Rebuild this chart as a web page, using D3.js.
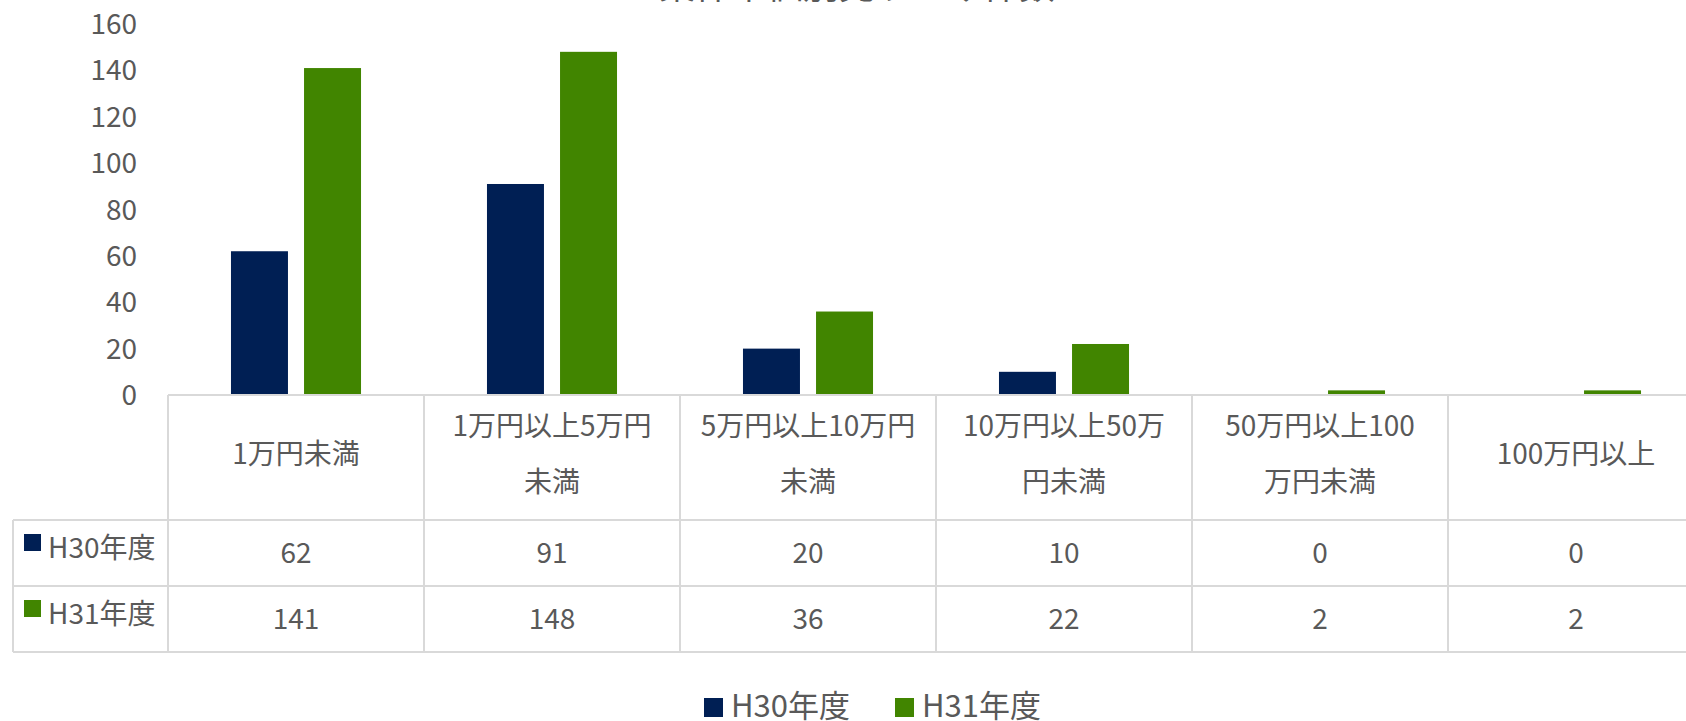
<!DOCTYPE html>
<meta charset="utf-8">
<style>
body { margin: 0; background: #fff; }
text {
  font-family: "Noto Sans CJK JP", "Noto Sans", sans-serif;
  fill: #595959;
}
.grid-line {
  stroke: #d9d9d9;
  stroke-width: 2px;
}
</style>
<svg width="1686" height="721"></svg>
<script src="https://cdn.jsdelivr.net/npm/d3@7"></script>
<script>

var title = "案件単価別売り上げ件数";
var categories = ["1万円未満", "1万円以上5万円未満", "5万円以上10万円未満", "10万円以上50万円未満", "50万円以上100万円未満", "100万円以上"];
// line breaks as they appear in the table header
var categoryLines = [
  ["1万円未満"],
  ["1万円以上5万円", "未満"],
  ["5万円以上10万円", "未満"],
  ["10万円以上50万", "円未満"],
  ["50万円以上100", "万円未満"],
  ["100万円以上"]
];
var seriesNames = ["H30年度", "H31年度"];
var h30 = [62, 91, 20, 10, 0, 0];
var h31 = [141, 148, 36, 22, 2, 2];
var yTicks = [0, 20, 40, 60, 80, 100, 120, 140, 160];
var colors = ["#001f54", "#418500"];

var svg = d3.select("svg");

var plotLeft = 168, plotRight = 1704,
    plotTop = 24, plotBottom = 395,
    tableLeft = 13,
    headerBottom = 520, rowH = 66;

var series = [h30, h31];

var x0 = d3.scaleBand()
    .domain(categories)
    .range([plotLeft, plotRight])
    .paddingInner(0.492)
    .paddingOuter(0.246);

var x1 = d3.scaleBand()
    .domain(seriesNames)
    .range([0, x0.bandwidth()])
    .paddingInner(0.22);

var y = d3.scaleLinear()
    .domain([0, 160])
    .range([plotBottom, plotTop]);

// title (mostly cropped at the top of the picture)
svg.append("text")
    .attr("x", 857)
    .attr("y", -1)
    .attr("text-anchor", "middle")
    .style("font-size", "36px")
    .text(title);

// y axis labels
svg.append("g")
  .selectAll("text")
  .data(yTicks)
  .enter().append("text")
    .attr("x", 137)
    .attr("y", function(d) { return y(d) + 10; })
    .attr("text-anchor", "end")
    .style("font-size", "28px")
    .text(function(d) { return d; });

// bars
var groups = svg.append("g")
  .selectAll("g")
  .data(categories)
  .enter().append("g")
    .attr("transform", function(d) { return "translate(" + x0(d) + ",0)"; });

groups.selectAll("rect")
  .data(function(d, i) { return series.map(function(s, j) { return {name: seriesNames[j], value: s[i], k: j}; }); })
  .enter().append("rect")
    .attr("x", function(d) { return x1(d.name); })
    .attr("y", function(d) { return y(d.value); })
    .attr("width", x1.bandwidth())
    .attr("height", function(d) { return y(0) - y(d.value); })
    .attr("fill", function(d) { return colors[d.k]; });

// data table
var step = x0.step();
var tableBottom = headerBottom + rowH * seriesNames.length;
var grid = svg.append("g");

grid.append("line").attr("class", "grid-line")
    .attr("x1", plotLeft).attr("x2", plotRight)
    .attr("y1", plotBottom).attr("y2", plotBottom);

d3.range(seriesNames.length + 1).forEach(function(r) {
  var yy = headerBottom + r * rowH;
  grid.append("line").attr("class", "grid-line")
      .attr("x1", tableLeft).attr("x2", plotRight)
      .attr("y1", yy).attr("y2", yy);
});

grid.append("line").attr("class", "grid-line")
    .attr("x1", tableLeft).attr("x2", tableLeft)
    .attr("y1", headerBottom).attr("y2", tableBottom);

d3.range(categories.length + 1).forEach(function(c) {
  var xx = plotLeft + c * step;
  grid.append("line").attr("class", "grid-line")
      .attr("x1", xx).attr("x2", xx)
      .attr("y1", plotBottom).attr("y2", tableBottom);
});

// header cells
var headerMid = (plotBottom + headerBottom) / 2 - 4;
categories.forEach(function(c, i) {
  var lines = categoryLines[i];
  var cx = plotLeft + (i + 0.5) * step;
  var lh = 56;
  var top = headerMid - (lines.length - 1) * lh / 2;
  lines.forEach(function(t, j) {
    svg.append("text")
        .attr("x", cx)
        .attr("y", top + j * lh + 10)
        .attr("text-anchor", "middle")
        .style("font-size", "28px")
        .text(t);
  });
});

// value rows
series.forEach(function(s, r) {
  var rowMid = headerBottom + r * rowH + rowH / 2;
  svg.append("rect")
      .attr("x", 24)
      .attr("y", headerBottom + r * rowH + 14)
      .attr("width", 17)
      .attr("height", 17)
      .attr("fill", colors[r]);
  svg.append("text")
      .attr("x", 48)
      .attr("y", headerBottom + r * rowH + 38)
      .style("font-size", "28px")
      .text(seriesNames[r]);
  s.forEach(function(v, i) {
    svg.append("text")
        .attr("x", plotLeft + (i + 0.5) * step)
        .attr("y", rowMid + 10)
        .attr("text-anchor", "middle")
        .style("font-size", "28px")
        .text(v);
  });
});

// legend
var legend = svg.append("g")
    .attr("transform", "translate(704,0)");

var item = legend.selectAll("g")
  .data(seriesNames)
  .enter().append("g")
    .attr("transform", function(d, i) { return "translate(" + (i * 191) + ",0)"; });

item.append("rect")
    .attr("y", 698)
    .attr("width", 19)
    .attr("height", 19)
    .attr("fill", function(d, i) { return colors[i]; });

item.append("text")
    .attr("x", 27)
    .attr("y", 717)
    .style("font-size", "31px")
    .text(function(d) { return d; });

</script>
